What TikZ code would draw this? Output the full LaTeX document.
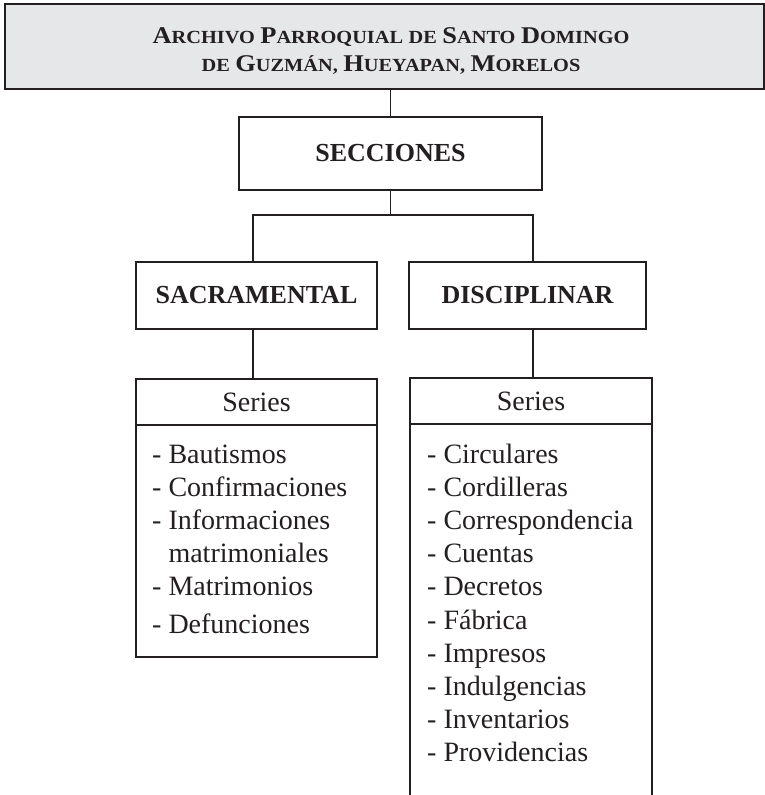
\documentclass[tikz,border=0pt]{standalone}
\usepackage{fontspec}
\setmainfont{Liberation Serif}
\newfontfamily\titlefont[FakeStretch=1.1]{Liberation Serif}
\definecolor{titlegray}{HTML}{E6E7E8}
\definecolor{ink}{HTML}{231F20}
\newcommand\bigsc[1]{{\fontsize{24}{28}\selectfont #1}}
\newcommand\smsc[1]{{\fontsize{18.5}{28}\selectfont #1}}
\begin{document}
\begin{tikzpicture}[x=1pt,y=-1pt,
  box/.style={draw=ink, line width=1.1pt, inner sep=0pt, outer sep=0pt},
  boldlabel/.style={font=\bfseries\fontsize{26}{30}\selectfont, text=ink},
  serieslabel/.style={font=\fontsize{28}{32}\selectfont, text=ink},
  item/.style={font=\fontsize{28}{32}\selectfont, text=ink, anchor=base west, inner sep=0pt},
  titleline/.style={font=\titlefont\bfseries\fontsize{20}{28}\selectfont, text=ink, anchor=base, inner sep=0pt},
  conn/.style={draw=ink, line width=1.1pt}]
\useasboundingbox (0,0) rectangle (765,795);
% title
\node[box, fill=titlegray, minimum width=759pt, minimum height=85pt] (title) at (384.5,46.5) {};
\node[titleline] (t1) at (391,43) {\bigsc{A}\smsc{RCHIVO} \bigsc{P}\smsc{ARROQUIAL} \smsc{DE} \bigsc{S}\smsc{ANTO} \bigsc{D}\smsc{OMINGO}};
\node[titleline] (t2) at (391,71) {\smsc{DE} \bigsc{G}\smsc{UZMÁN,} \bigsc{H}\smsc{UEYAPAN,} \bigsc{M}\smsc{ORELOS}};
% sections
\node[box, boldlabel, minimum width=303pt, minimum height=73pt] (secc) at (390.5,153.5) {SECCIONES};
\node[box, boldlabel, minimum width=241pt, minimum height=67pt] (sacr) at (256.5,295.5) {SACRAMENTAL};
\node[box, boldlabel, minimum width=237pt, minimum height=67pt] (disc) at (527.5,295.5) {DISCIPLINAR};
% series
\node[box, serieslabel, minimum width=241pt, minimum height=46pt] (lhead) at (256.5,402) {Series};
\node[box, minimum width=241pt, minimum height=232pt, anchor=north] (lbody) at (lhead.south) {};
\node[box, serieslabel, minimum width=242pt, minimum height=46pt] (rhead) at (531,401) {Series};
\coordinate (rbl) at (410,797);
\coordinate (rbr) at (652,797);
\draw[conn] (rhead.south west) -- (rhead.south west |- rbl);
\draw[conn] (rhead.south east) -- (rhead.south east |- rbr);
% connectors
\coordinate (bus) at (390.5,215);
\coordinate (jL) at (253,215);
\coordinate (jR) at (533,215);
\draw[conn] (secc.north |- title.south) -- (secc.north);
\draw[conn] (secc.south) -- (bus);
\draw[conn] (sacr.north -| jL) -- (jL) -- (jR) -- (disc.north -| jR);
\draw[conn] (sacr.south -| jL) -- (lhead.north -| jL);
\draw[conn] (disc.south -| jR) -- (rhead.north -| jR);
% left items
\node[item] (l1) at (152,463) {- Bautismos};
\node[item] (l2) at (152,496.2) {- Confirmaciones};
\node[item] (l3) at (152,529.4) {- Informaciones};
\node[item] (l4) at (152,562.6) {\phantom{- }matrimoniales};
\node[item] (l5) at (152,595.8) {- Matrimonios};
\node[item] (l6) at (152,633) {- Defunciones};
% right items
\foreach \t [count=\i] in {Circulares,Cordilleras,Correspondencia,Cuentas,Decretos,Fábrica,Impresos,Indulgencias,Inventarios,Providencias}
  \node[item] (r\i) at (427,{463+(\i-1)*33.2}) {- \t};
\end{tikzpicture}
\end{document}
